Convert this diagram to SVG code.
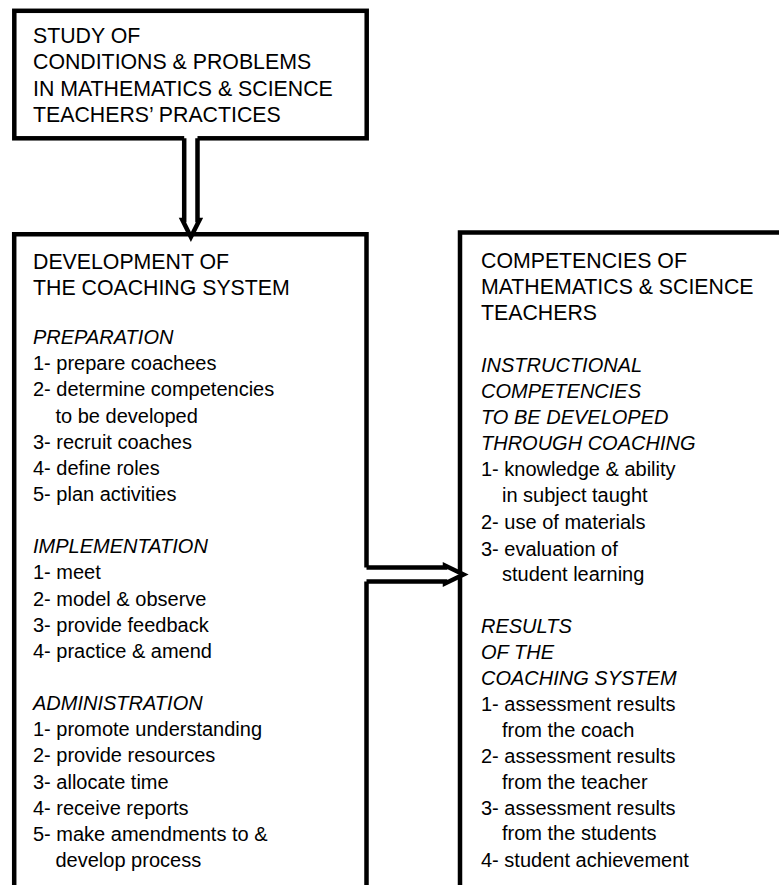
<svg xmlns="http://www.w3.org/2000/svg" width="779" height="885" viewBox="0 0 779 885">
<style>
.box{fill:none;stroke:#000;stroke-width:4.5}
.arrfill{fill:#fff;stroke:none}
.arr{fill:none;stroke:#000;stroke-width:4.5;stroke-linejoin:miter;stroke-miterlimit:10}
text{font-family:"Liberation Sans",Arial,Helvetica,sans-serif;font-size:20px;fill:#000}
.h{font-size:21.3px}
.i{font-style:italic}
</style>
<rect width="779" height="885" fill="#fff"/>
<g id="node-study">
<rect class="box" x="14.3" y="10.8" width="352.4" height="127.5"/>
<text class="h" x="33" y="43.3">STUDY OF</text>
<text class="h" x="33" y="69.4">CONDITIONS &amp; PROBLEMS</text>
<text class="h" x="33" y="95.5">IN MATHEMATICS &amp; SCIENCE</text>
<text class="h" x="33" y="121.6">TEACHERS’ PRACTICES</text>
</g>
<g id="node-development">
<path class="box" d="M14.2,900 V234.2 H366.5 V900"/>
<text class="h" x="33" y="269">DEVELOPMENT OF</text>
<text class="h" x="33" y="294.5">THE COACHING SYSTEM</text>
<text class="i" x="33" y="344">PREPARATION</text>
<text x="33" y="370.2">1- prepare coachees</text>
<text x="33" y="396.3">2- determine competencies</text>
<text x="55.5" y="422.5">to be developed</text>
<text x="33" y="448.6">3- recruit coaches</text>
<text x="33" y="474.8">4- define roles</text>
<text x="33" y="500.9">5- plan activities</text>
<text class="i" x="33" y="553.2">IMPLEMENTATION</text>
<text x="33" y="579.4">1- meet</text>
<text x="33" y="605.5">2- model &amp; observe</text>
<text x="33" y="631.7">3- provide feedback</text>
<text x="33" y="657.8">4- practice &amp; amend</text>
<text class="i" x="33" y="710.1">ADMINISTRATION</text>
<text x="33" y="736.3">1- promote understanding</text>
<text x="33" y="762.4">2- provide resources</text>
<text x="33" y="788.6">3- allocate time</text>
<text x="33" y="814.7">4- receive reports</text>
<text x="33" y="840.9">5- make amendments to &amp;</text>
<text x="55.5" y="867">develop process</text>
</g>
<g id="node-competencies">
<path class="box" d="M460,900 V232.5 H790"/>
<text class="h" x="481" y="268.3">COMPETENCIES OF</text>
<text class="h" x="481" y="294">MATHEMATICS &amp; SCIENCE</text>
<text class="h" x="481" y="320">TEACHERS</text>
<text class="i" x="481" y="371.7">INSTRUCTIONAL</text>
<text class="i" x="481" y="397.8">COMPETENCIES</text>
<text class="i" x="481" y="423.9">TO BE DEVELOPED</text>
<text class="i" x="481" y="450">THROUGH COACHING</text>
<text x="481" y="476">1- knowledge &amp; ability</text>
<text x="502" y="502">in subject taught</text>
<text x="481" y="529">2- use of materials</text>
<text x="481" y="555.5">3- evaluation of</text>
<text x="502" y="581.3">student learning</text>
<text class="i" x="481" y="633">RESULTS</text>
<text class="i" x="481" y="659">OF THE</text>
<text class="i" x="481" y="685.3">COACHING SYSTEM</text>
<text x="481" y="711.4">1- assessment results</text>
<text x="502" y="737.2">from the coach</text>
<text x="481" y="763.2">2- assessment results</text>
<text x="502" y="789.2">from the teacher</text>
<text x="481" y="814.6">3- assessment results</text>
<text x="502" y="840.4">from the students</text>
<text x="481" y="866.5">4- student achievement</text>
</g>
<g id="connectors">
<polygon class="arrfill" points="184.2,135 197.5,135 197.5,220 199.5,220 190.9,237 182.4,220 184.2,220"/>
<polyline class="arr" points="184.2,138.3 184.2,220 182.4,220 190.9,237 199.5,220 197.5,220 197.5,138.3"/>
<polygon class="arrfill" points="364,567.5 445,567.5 445,565.5 463.5,574.5 445,583.5 445,581.5 364,581.5"/>
<polyline class="arr" points="366.5,567.5 445,567.5 445,565.5 463.5,574.5 445,583.5 445,581.5 366.5,581.5"/>
</g>
</svg>
